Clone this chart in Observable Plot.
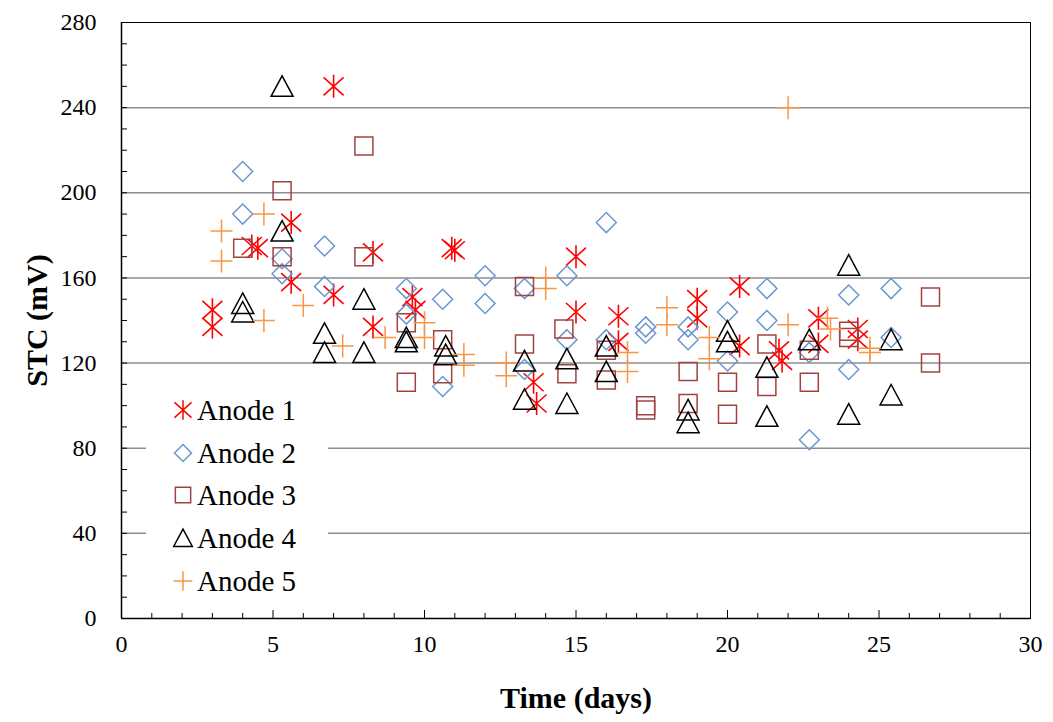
<!DOCTYPE html>
<html><head><meta charset="utf-8">
<script src="https://cdn.jsdelivr.net/npm/d3@7"></script>
<script src="https://cdn.jsdelivr.net/npm/@observablehq/plot@0.6"></script>
<style>
body{margin:0;background:#fff;}
#wrap{position:relative;width:1053px;height:722px;}
#legend{position:absolute;left:146px;top:391px;width:182px;height:208px;background:#fff;}
#legend .item{position:absolute;left:24px;height:40px;display:flex;align-items:center;font-family:"Liberation Serif";font-size:29px;color:#000;white-space:nowrap;}
#legend svg{margin-right:1px;}
</style></head><body><div id="wrap"></div><script>
// ---- data ----
const seriesNames = ["Anode 1","Anode 2","Anode 3","Anode 4","Anode 5"];
const seriesColors = ["#ff0000","#6b96cf","#a0433f","#000000","#f79646"];

const anode1Days = [3.0,3.0,4.3,4.5,5.6,5.6,7.0,7.0,8.3,8.3,9.6,9.7,10.9,11.0,13.6,13.7,15.0,15.0,16.4,16.4,19.0,19.0,20.4,20.4,21.7,21.8,23.0,23.0,24.3,24.3];
const anode1Stc  = [145,137,175,174,186,158,250,152,172,137,151,145,174,173,111,101,170,144,142,130,150,141,156,128,126,121,141,129,136,131];

const anode2Days = [4.0,4.0,5.3,5.3,6.7,6.7,9.4,9.4,10.6,10.6,12.0,12.0,13.3,13.3,14.7,14.7,16.0,16.0,17.3,17.3,18.7,18.7,20.0,20.0,21.3,21.3,22.7,22.7,24.0,24.0,25.4,25.4];
const anode2Stc  = [210,190,169,162,175,156,155,143,150,109,161,148,155,117,161,131,186,131,137,134,137,131,144,121,155,140,125,84,152,117,155,132];

const anode3Days = [4.0,5.3,5.3,8.0,8.0,9.4,9.4,10.6,10.6,13.3,13.3,14.6,14.7,16.0,16.0,17.3,17.3,18.7,18.7,20.0,20.0,21.3,21.3,22.7,22.7,24.0,24.0,26.7,26.7];
const anode3Stc  = [174,201,170,222,170,139,111,131,115,156,129,136,115,126,112,100,98,116,101,111,96,129,109,126,111,135,132,151,120];

const anode4Days = [4.0,4.0,5.3,5.3,6.7,6.7,8.0,8.0,9.4,9.4,10.7,10.7,13.3,13.3,14.7,14.7,16.0,16.0,18.7,18.7,20.0,20.0,21.3,21.3,22.7,24.0,24.0,25.4,25.4];
const anode4Stc  = [148,144,250,182,134,125,150,125,132,130,128,124,121,103,122,101,128,116,98,92,135,130,118,95,131,166,96,131,105];

const anode5Days = [3.3,3.3,4.7,4.7,6.0,7.3,8.7,10.0,10.0,11.3,11.3,12.7,12.7,14.0,14.0,16.7,16.7,18.0,18.0,19.4,19.4,22.0,22.0,23.3,23.4,24.7,24.7];
const anode5Stc  = [182,168,190,140,147,128,132,139,132,124,119,120,114,160,155,125,116,146,138,132,122,240,138,141,136,127,125];

const xTicks = [0,5,10,15,20,25,30];
const yTicks = [0,40,80,120,160,200,240,280];
const gridValues = [40,80,120,160,200,240];

// ---- symbols ----
function sym(k, s){
  return {draw(c){
    if(k===0){ // asterisk
      c.moveTo(0,-11.5*s); c.lineTo(0,11.5*s);
      c.moveTo(-10*s,-9*s); c.lineTo(10*s,9*s);
      c.moveTo(-10*s,9*s); c.lineTo(10*s,-9*s);
    } else if(k===1){ // diamond
      c.moveTo(0,-10*s); c.lineTo(10*s,0); c.lineTo(0,10*s); c.lineTo(-10*s,0); c.closePath();
    } else if(k===2){ // square
      c.moveTo(-9*s,-9*s); c.lineTo(9*s,-9*s); c.lineTo(9*s,9*s); c.lineTo(-9*s,9*s); c.closePath();
    } else if(k===3){ // triangle
      c.moveTo(0,-10.5*s); c.lineTo(11*s,10*s); c.lineTo(-11*s,10*s); c.closePath();
    } else { // plus
      c.moveTo(-11*s,0); c.lineTo(11*s,0);
      c.moveTo(0,-11.5*s); c.lineTo(0,11.5*s);
    }
  }};
}

const days = [anode1Days,anode2Days,anode3Days,anode4Days,anode5Days];
const stcs = [anode1Stc,anode2Stc,anode3Stc,anode4Stc,anode5Stc];
const tables = days.map((d,i)=> d.map((x,j)=>({day:x, stc:stcs[i][j]})));

const W=1053, H=722, ML=121, MR=23, MT=22, MB=104;
const PW=W-ML-MR, PH=H-MT-MB;
const font = "'Liberation Serif', serif";

const chart = Plot.plot({
  width: W, height: H,
  marginLeft: ML, marginRight: MR, marginTop: MT, marginBottom: MB,
  style: {fontFamily: font, background: "#fff"},
  x: {domain:[0,30]},
  y: {domain:[0,280]},
  marks: [
    Plot.ruleY(gridValues, {stroke:"#8e8e8e", strokeWidth:1.5}),
    Plot.frame({stroke:"#000", strokeWidth:1}),
    Plot.ruleX([0], {stroke:"#000", strokeWidth:1.5}),
    Plot.ruleY([0], {stroke:"#000", strokeWidth:1.5}),
    Plot.tickY(d3.range(0,281,10), {y:d=>d, insetRight: PW-6, stroke:"#000", strokeWidth:1}),
    Plot.tickX(d3.range(0,31,1).filter(d=>d%5!==0), {x:d=>d, insetTop: PH-5, stroke:"#000", strokeWidth:1}),
    Plot.tickX(d3.range(0,31,5), {x:d=>d, insetTop: PH-8, stroke:"#000", strokeWidth:1}),
    Plot.axisY(yTicks, {tickSize:0, tickPadding:25, fontSize:24, fontFamily:font, label:null}),
    Plot.axisX(xTicks, {tickSize:0, tickPadding:16, fontSize:24, fontFamily:font, label:null}),
    Plot.text(["STC (mV)"], {frameAnchor:"left", dx:-84, rotate:-90, textAnchor:"middle", lineAnchor:"middle", fontSize:30, fontWeight:"bold", fontFamily:font}),
    Plot.text(["Time (days)"], {frameAnchor:"bottom", dy:80, textAnchor:"middle", lineAnchor:"middle", fontSize:30, fontWeight:"bold", fontFamily:font}),
    ...tables.map((t,i)=>Plot.dot(t,{x:"day",y:"stc",r:5,symbol:sym(i,1),
      stroke:seriesColors[i], fill:"none", strokeWidth: i===0?1.6:1.5}))
  ]
});
document.getElementById("wrap").appendChild(chart);

// ---- legend ----
const lg = document.createElement("div"); lg.id="legend";
const rowY=[19,62,104,147,190];
seriesNames.forEach((n,i)=>{
  const it=document.createElement("div"); it.className="item";
  it.style.top=(rowY[i]-20)+"px";
  const svg=d3.create("svg").attr("width",26).attr("height",26);
  svg.append("path").attr("transform","translate(13,13)")
    .attr("d", d3.symbol(sym(i,0.85))())
    .attr("fill","none").attr("stroke",seriesColors[i]).attr("stroke-width",1.5);
  it.appendChild(svg.node());
  it.appendChild(document.createTextNode(n));
  lg.appendChild(it);
});
document.getElementById("wrap").appendChild(lg);
</script></body></html>
